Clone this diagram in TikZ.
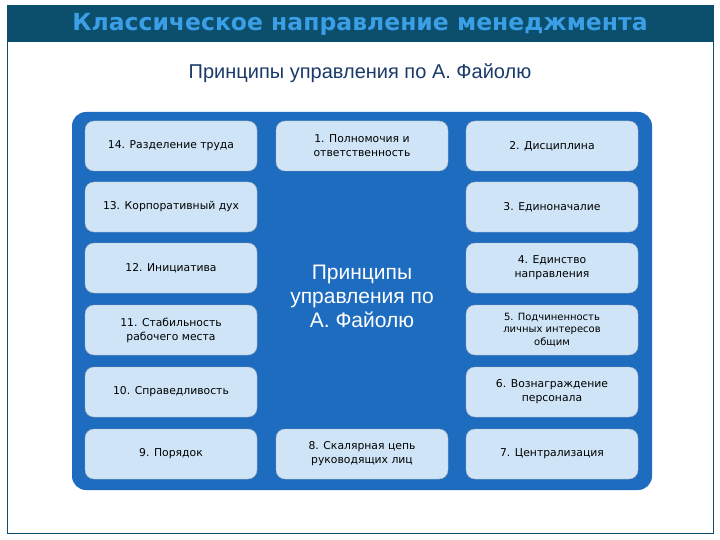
\documentclass[tikz,border=0pt]{standalone}
\usepackage{fontspec}
\setmainfont{Liberation Sans}
\newfontfamily\boxfont{DejaVu Sans}
\definecolor{teal}{HTML}{0B4F6C}
\definecolor{ttl}{HTML}{3A9FE6}
\definecolor{sub}{HTML}{1A3A6A}
\definecolor{panel}{HTML}{1E6CC0}
\definecolor{boxc}{HTML}{CFE5F7}
\tikzset{pb/.style={draw=gray!60,fill=boxc,rounded corners=9pt,minimum width=172pt,minimum height=50pt,align=center,font=\boxfont\fontsize{10.8}{14}\selectfont,text=black}}
\begin{document}
\begin{tikzpicture}[x=1pt,y=-1pt]
\useasboundingbox (0,0) rectangle (720,540);
\fill[white] (0,0) rectangle (720,540);
\draw[teal,line width=1pt] (7,6) rectangle (713,533);
\fill[teal] (7,6) rectangle (713,42);
\node (title) at (360,24) {\fontspec{DejaVu Sans}\bfseries\fontsize{23.5}{26}\selectfont\color{ttl}Классическое направление менеджмента};
\node[text=sub,font=\fontsize{20}{22}\selectfont] (sub) at (360,73) {Принципы управления по А. Файолю};
\fill[panel,rounded corners=14pt] (72,112) rectangle (652,490);
\node[text=white,align=center,font=\fontsize{21}{24}\selectfont] (c) at (362,296) {Принципы\\управления по\\А. Файолю};
\node[pb] (p14) at (171,146) {14. Разделение труда};
\node[pb] (p1) at (362,146) {1. Полномочия и\\ответственность};
\node[pb] (p2) at (552,146) {2. Дисциплина};
\node[pb] (p13) at (171,207) {13. Корпоративный дух};
\node[pb] (p3) at (552,207) {3. Единоначалие};
\node[pb] (p12) at (171,268) {12. Инициатива};
\node[pb] (p4) at (552,268) {4. Единство\\направления};
\node[pb] (p11) at (171,330) {11. Стабильность\\рабочего места};
\node[pb,font=\boxfont\fontsize{10}{12.5}\selectfont] (p5) at (552,330) {5. Подчиненность\\личных интересов\\общим};
\node[pb] (p10) at (171,392) {10. Справедливость};
\node[pb] (p6) at (552,392) {6. Вознаграждение\\персонала};
\node[pb] (p9) at (171,454) {9. Порядок};
\node[pb] (p8) at (362,454) {8. Скалярная цепь\\руководящих лиц};
\node[pb] (p7) at (552,454) {7. Централизация};
\end{tikzpicture}
\end{document}
